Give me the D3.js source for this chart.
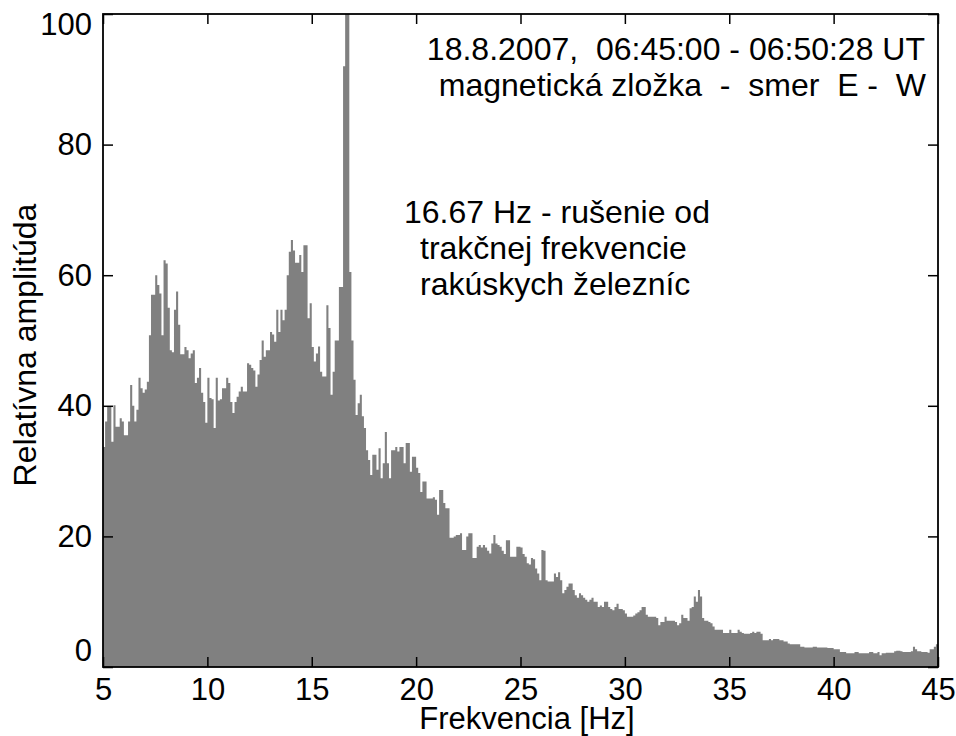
<!DOCTYPE html>
<html>
<head>
<meta charset="utf-8">
<script src="https://cdn.jsdelivr.net/npm/d3@7"></script>
<style>
  body { margin: 0; background: #fff; }
  text { font-family: "Liberation Sans", Arial, sans-serif; fill: #000; }
</style>
</head>
<body>
<div id="chart"></div>
<script>
// Spectrum values, 0.1 Hz bins
var amp5to15 = [
  33.7, 37.6, 39.9, 39.9, 34.5, 40.1, 36.8, 36.8, 38.1, 37.6,
  35.5, 35.5, 37.6, 43.2, 40, 37.6, 39.4, 44.3, 42.7, 42,
  42.5, 43.7, 50.8, 57, 57, 60, 58.5, 57.2, 50.8, 62.3,
  61.8, 55, 48.5, 48.2, 54.7, 57.5, 52.4, 47.9, 47.9, 49,
  48.5, 47.3, 48, 48.5, 43.5, 44.3, 45.8, 42, 40.6, 37.4,
  44.3, 41.2, 41, 36.6, 44.3, 40.8, 41, 42.7, 42.7, 44.3,
  43.5, 40.6, 38.9, 40.6, 41.4, 42.2, 42.9, 42.2, 42.2, 46.5,
  46.3, 45.8, 45.4, 42.9, 44.8, 47, 50, 47.5, 48.5, 48.5,
  51.3, 50.9, 49.8, 54.7, 51.3, 54.7, 53.1, 54.7, 60, 63.6,
  65.4, 63.8, 61.9, 61.9, 63.1, 60.5, 64.6, 64.6, 53.4, 55.7
];
var amp15to25 = [
  49, 46.8, 48, 49.1, 45.2, 44.5, 44.5, 55.4, 51.9, 41.7,
  45.2, 50, 50, 58.2, 58.2, 92, 115, 115, 60.5, 50,
  44, 38.6, 40.4, 41.7, 38.4, 36.6, 33.2, 31.7, 29.4, 32.5,
  32.5, 30.2, 33.5, 28.9, 31.2, 36, 31.2, 28.9, 33.2, 33.2,
  33.7, 33, 33.7, 33.7, 31.2, 34.3, 34.3, 29.9, 32.2, 32.2,
  30.5, 29.7, 26.8, 28.4, 28.4, 25.8, 25.8, 25.8, 26, 25.6,
  23.3, 27.1, 27.1, 25.1, 24.3, 24.3, 19.8, 19.8, 20, 20.2,
  20.2, 20.5, 17.9, 17.9, 20, 20.5, 20.5, 16.7, 16.7, 18.4,
  18.7, 18.3, 18.7, 18.3, 17.8, 17.4, 18.9, 20.2, 18.9, 18.7,
  18.4, 17.8, 17.3, 19.4, 19.4, 16.9, 16.9, 16.9, 18.4, 18.4
];
var amp25to35 = [
  18.3, 17.3, 16.9, 15.9, 15.7, 16.7, 16.5, 15.1, 14.3, 13.3,
  17.9, 17.8, 13.3, 13.1, 13.1, 13.1, 14.3, 13.8, 14.5, 13.3,
  11.3, 11.8, 12.3, 12.8, 12.8, 11.8, 11, 10.6, 11.3, 11,
  10.6, 10.3, 10, 10.3, 10.6, 10, 10, 9.2, 9.4, 9.2,
  10, 10, 9.2, 8.9, 8.7, 9.2, 9.7, 8.9, 8.9, 8.7,
  8.2, 7.7, 7.7, 7.7, 7.9, 8.2, 8.4, 8.7, 9.2, 9.2,
  8, 7.7, 7.7, 7.7, 7.7, 7.5, 6.4, 6.9, 6.9, 7.7,
  7.1, 7.1, 7.1, 7.1, 6.9, 6.4, 6.7, 8, 7.5, 7.5,
  7.1, 9, 9.2, 10.8, 10, 11.8, 10.8, 7.5, 7.1, 7.1,
  6.9, 6.7, 6.2, 5.7, 5.7, 5.7, 5.7, 5.2, 5.2, 5.2
];
var amp35to45 = [
  5.7, 5.2, 5.2, 5.2, 5.7, 5.4, 5.2, 5.1, 5.1, 5.1,
  5.2, 5.4, 5.2, 5.4, 5.4, 5.1, 4.1, 4.1, 4.1, 4.3,
  4.1, 4.3, 4.3, 4.3, 4.1, 4.1, 3.9, 3.9, 3.6, 3.5,
  3.5, 3.5, 3.5, 3.5, 3.1, 3.1, 3, 3, 3, 3,
  3.1, 3.1, 3, 3, 3, 3, 3, 2.9, 2.9, 2.9,
  2.7, 2.7, 2.7, 2.3, 2.3, 2.3, 2.1, 2.1, 2.1, 2.1,
  2.3, 2.3, 2.1, 2.1, 2.1, 2.1, 2.1, 2.3, 2.3, 2.1,
  2.1, 2.3, 1.8, 2.1, 2.1, 2.2, 2.2, 2.2, 2.2, 2.4,
  2.5, 2.5, 2.4, 2.3, 2.3, 2.3, 2.3, 2.4, 3.1, 2.7,
  2.4, 2.4, 2.3, 2.3, 2.3, 2.2, 2.7, 2.7, 3.1, 3.5
];

var xTicks = [5, 10, 15, 20, 25, 30, 35, 40, 45];
var yTicks = [0, 20, 40, 60, 80, 100];
var binWidth = 0.1;
var freqStart = 5;

var headerLines = ["18.8.2007,  06:45:00 - 06:50:28 UT", "magnetická zložka  -  smer  E -  W"];
var noteLines = ["16.67 Hz - rušenie od", "trakčnej frekvencie", "rakúskych železníc"];

var amplitudes = amp5to15.concat(amp15to25, amp25to35, amp35to45);
var data = amplitudes.map((a, i) => ({ f: freqStart + i * binWidth, a: a }));
// closing point so the last bin gets its full width in the step outline
data.push({ f: freqStart + amplitudes.length * binWidth, a: amplitudes[amplitudes.length - 1] });

// SVG area
var svgWidth = 956, svgHeight = 736;
var margin = { t: 14, r: 18, b: 69, l: 103 };
var chartWidth = svgWidth - margin.l - margin.r;
var chartHeight = svgHeight - margin.t - margin.b;

var svg = d3.select("#chart").append("svg")
    .attr("width", svgWidth)
    .attr("height", svgHeight);

var chart = svg.append("g")
    .attr("transform", `translate(${margin.l} ${margin.t})`);

var xScale = d3.scaleLinear().domain([5, 45]).range([0, chartWidth]);
var yScale = d3.scaleLinear().domain([0, 100]).range([chartHeight, 0]);

chart.append("clipPath").attr("id", "plotClip")
  .append("rect")
    .attr("width", chartWidth)
    .attr("height", chartHeight);

// Bars drawn as one stepped silhouette (no seams between neighbours)
var barArea = d3.area()
    .curve(d3.curveStepAfter)
    .x(d => xScale(d.f))
    .y0(yScale(0))
    .y1(d => yScale(d.a));

chart.append("path")
    .datum(data)
    .attr("clip-path", "url(#plotClip)")
    .attr("d", barArea)
    .attr("fill", "#808080");

// Axes, ticks pointing inward
var fontTicks = "31px";

var xAxis = d3.axisBottom(xScale).tickValues(xTicks).tickSize(-10).tickPadding(11);
var gx = chart.append("g")
    .attr("transform", `translate(0, ${chartHeight})`)
    .call(xAxis);

chart.append("g")
    .call(d3.axisTop(xScale).tickValues(xTicks).tickSize(-10).tickFormat(""));

var yAxis = d3.axisLeft(yScale).tickValues(yTicks).tickSize(-10).tickPadding(11);
var gy = chart.append("g").call(yAxis);

chart.append("g")
    .attr("transform", `translate(${chartWidth}, 0)`)
    .call(d3.axisRight(yScale).tickValues(yTicks).tickSize(-10).tickFormat(""));

chart.selectAll(".domain").remove();
chart.selectAll(".tick line").attr("stroke", "#000").attr("stroke-width", 1.5);
chart.selectAll(".tick text")
    .style("font-size", fontTicks)
    .style("font-family", '"Liberation Sans", Arial, sans-serif')
    .attr("fill", "#000");

// End labels sit a little inside, as in the picture
gy.selectAll(".tick text")
    .attr("dy", d => d == 0 ? "-0.2em" : (d == 100 ? "0.65em" : "0.32em"));

// Frame
chart.append("rect")
    .attr("width", chartWidth)
    .attr("height", chartHeight)
    .attr("fill", "none")
    .attr("stroke", "#000")
    .attr("stroke-width", 1.8);

// Axis labels
svg.append("text")
    .attr("x", 527)
    .attr("y", 729)
    .attr("text-anchor", "middle")
    .style("font-size", "31px")
    .text("Frekvencia [Hz]");

svg.append("g")
    .attr("transform", "translate(36 345)")
  .append("text")
    .attr("text-anchor", "middle")
    .attr("transform", "rotate(-90)")
    .style("font-size", "32px")
    .text("Relatívna amplitúda");

// Header text, top right
svg.append("g").selectAll("text")
  .data(headerLines)
  .enter()
  .append("text")
    .attr("x", (d, i) => i == 0 ? 925 : 926)
    .attr("y", (d, i) => 60 + i * 36)
    .attr("text-anchor", "end")
    .style("white-space", "pre")
    .style("font-size", "32px")
    .text(d => d);

// Note about the 16.67 Hz line
svg.append("g").selectAll("text")
  .data(noteLines)
  .enter()
  .append("text")
    .attr("x", (d, i) => i == 0 ? 404 : 420)
    .attr("y", (d, i) => 223 + i * 36)
    .style("font-size", "32px")
    .text(d => d);
</script>
</body>
</html>
